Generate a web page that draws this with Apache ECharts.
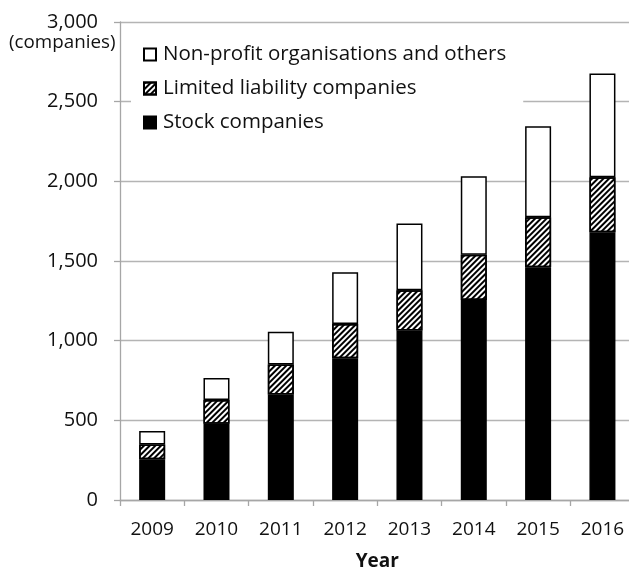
<!DOCTYPE html>
<html>
<head>
<meta charset="utf-8">
<script src="https://cdn.jsdelivr.net/npm/echarts@6/dist/echarts.min.js"></script>
<style>html,body{margin:0;padding:0;background:#fff;}#c{width:629px;height:567px;}</style>
</head>
<body>
<div id="c"></div>
<script>
var years = ['2009','2010','2011','2012','2013','2014','2015','2016'];
var stockCompanies = [255, 479, 662, 889, 1064, 1255, 1460, 1681];
var limitedLiability = [94, 148, 189, 215, 253, 284, 314, 344];
var nonProfitOthers = [84, 138, 205, 326, 419, 493, 572, 652];
var seriesNames = ['Stock companies', 'Limited liability companies', 'Non-profit organisations and others'];
var yTicks = [0, 500, 1000, 1500, 2000, 2500, 3000];

var FONT = '"Open Sans", "Noto Sans", sans-serif';
var chart = echarts.init(document.getElementById('c'), null, {renderer: 'canvas'});
var axisGray = '#a6a6a6';

var option = {
  animation: false,
  backgroundColor: '#fff',
  textStyle: {fontFamily: FONT},
  grid: {left: 120, top: 22, width: 514.6, height: 478, outerBoundsMode: 'none', containLabel: false},
  legend: {
    data: [seriesNames[2], seriesNames[1], seriesNames[0]],
    orient: 'vertical',
    left: 131,
    top: 34,
    padding: [10, 17, 8, 12],
    backgroundColor: '#fff',
    itemWidth: 12,
    itemHeight: 12,
    itemGap: 13,
    icon: 'rect',
    selectedMode: false,
    textStyle: {fontFamily: FONT, fontSize: 20.5, color: '#111', lineHeight: 20, padding: [0, 0, 0, 2]}
  },
  xAxis: {
    type: 'category',
    data: years,
    name: 'Year',
    nameLocation: 'middle',
    nameGap: 52,
    nameTextStyle: {fontFamily: FONT, fontSize: 19, fontWeight: 'bold', color: '#111'},
    axisLine: {lineStyle: {color: axisGray, width: 1.3}},
    axisTick: {show: true, length: 6, lineStyle: {color: axisGray, width: 1.3}},
    axisLabel: {fontFamily: FONT, fontSize: 19, color: '#111', margin: 20}
  },
  yAxis: {
    type: 'value',
    min: 0, max: 3000, interval: 500,
    axisLine: {show: true, lineStyle: {color: axisGray, width: 1.3}},
    axisTick: {show: true, length: 6, lineStyle: {color: axisGray, width: 1.3}},
    splitLine: {lineStyle: {color: '#b4b4b4', width: 1.3}},
    axisLabel: {
      fontFamily: FONT, fontSize: 20, color: '#111', margin: 22,
      formatter: function (v) { return yTicks.indexOf(v) >= 0 ? v.toLocaleString('en-US') : ''; }
    }
  },
  graphic: [{
    type: 'text',
    left: 9, top: 33,
    style: {text: '(companies)', fontFamily: FONT, fontSize: 18.8, fill: '#111'}
  }],
  series: [
    {
      name: seriesNames[0], type: 'bar', stack: 'total', data: stockCompanies, barWidth: 26,
      itemStyle: {color: '#000', borderColor: '#000', borderWidth: 1.5}
    },
    {
      name: seriesNames[1], type: 'bar', stack: 'total', data: limitedLiability, barWidth: 26,
      itemStyle: {
        color: '#fff', borderColor: '#000', borderWidth: 1.5,
        decal: {symbol: 'rect', symbolSize: 1, dashArrayX: [1, 0], dashArrayY: [1.5, 1.7], rotation: -Math.PI / 4, color: '#000'}
      }
    },
    {
      name: seriesNames[2], type: 'bar', stack: 'total', data: nonProfitOthers, barWidth: 26,
      itemStyle: {color: '#fff', borderColor: '#000', borderWidth: 1.5}
    }
  ]
};
chart.setOption(option);
</script>
</body>
</html>
